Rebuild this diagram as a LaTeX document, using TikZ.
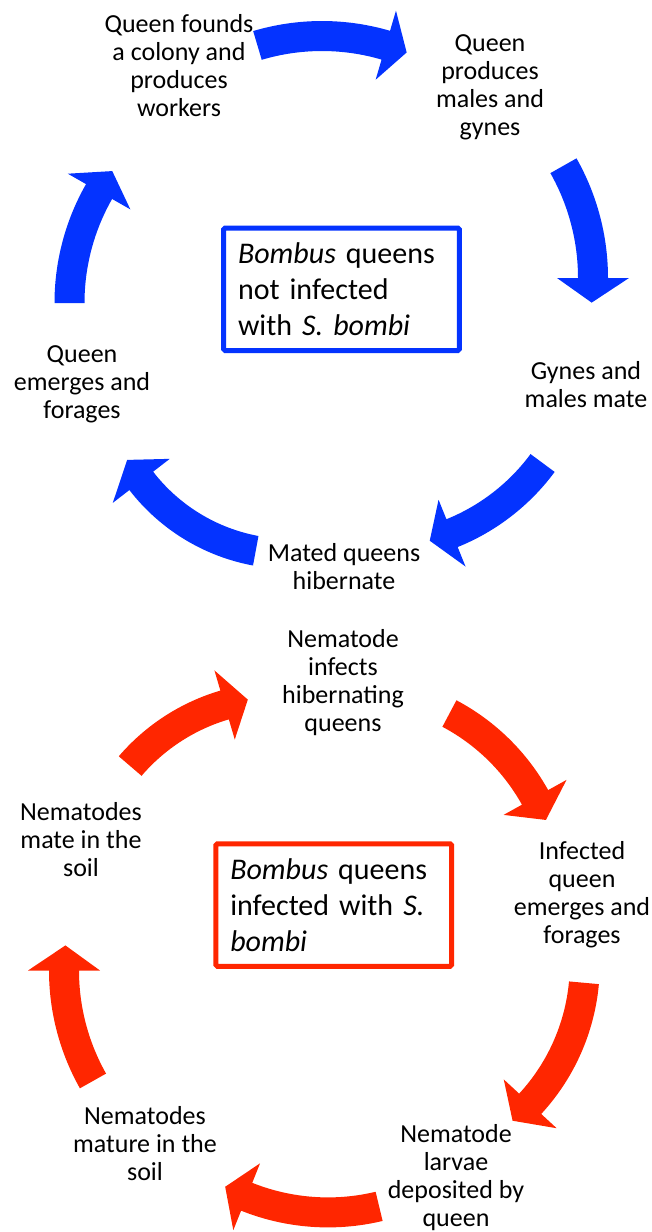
\documentclass[tikz,border=0pt]{standalone}
\usepackage{fontspec}
\setmainfont{Carlito}
\definecolor{cblue}{RGB}{4,51,255}
\definecolor{cred}{RGB}{255,38,0}
% curved block arrow: centre x, centre y, radius, tail angle, head-base angle, tip angle, colour
\newcommand{\blkarrow}[7]{%
  \fill[#7,shift={(#1,#2)}]
    (#4:{#3+15}) arc[start angle=#4, end angle=#5, radius={#3+15}]
    -- (#5:{#3+36}) -- (#6:#3) -- (#5:{#3-36}) -- (#5:{#3-15})
    arc[start angle=#5, end angle=#4, radius={#3-15}] -- cycle;}
\begin{document}
\begin{tikzpicture}[x=1pt,y=1pt,
  lbl/.style={font=\fontsize{26}{28}\selectfont, align=center, inner sep=0pt},
  infobox/.style={draw=#1, line width=5pt, rounded corners=1.5pt,
    minimum width=235.5pt, minimum height=122.5pt, text width=207pt,
    inner xsep=14.3pt, align=left, font=\fontsize{30}{36}\selectfont}]
\useasboundingbox (0,0) rectangle (651,-1232);

% ---------- top cycle (not infected) ----------
\node[lbl] (q1) at (179,-66)  {Queen founds\\a colony and\\produces\\workers};
\node[lbl] (q2) at (490,-87.5) {Queen\\produces\\males and\\gynes};
\node[lbl] (q3) at (586,-384.5) {Gynes and\\males mate};
\node[lbl] (q4) at (344,-567) {Mated queens\\hibernate};
\node[lbl] (q5) at (82,-384) {Queen\\emerges and\\forages};
\node[infobox=cblue] (box1) at (341.5,-289.25)
  {\textit{Bombus} queens\\not infected\\with \textit{S. bombi}};

\blkarrow{322}{-262}{226}{106.6}{73.6}{68}{cblue}
\blkarrow{365}{-278}{228}{29.5}{0}{-6.2}{cblue}
\blkarrow{373}{-337.5}{211}{-36.5}{-68}{-74.4}{cblue}
\blkarrow{290}{-365.9}{188}{259.5}{217.7}{210}{cblue}
\blkarrow{294.5}{-303}{225}{180}{150.3}{144.1}{cblue}

% ---------- bottom cycle (infected) ----------
\node[lbl] (r1) at (343,-683) {Nematode\\infects\\hibernating\\queens};
\node[lbl] (r2) at (582,-894.5) {Infected\\queen\\emerges and\\forages};
\node[lbl] (r3) at (456,-1178) {Nematode\\larvae\\deposited by\\queen};
\node[lbl] (r4) at (145,-1144) {Nematodes\\mature in the\\soil};
\node[lbl] (r5) at (81,-840) {Nematodes\\mate in the\\soil};
\node[infobox=cred] (box2) at (333.75,-905)
  {\textit{Bombus} queens\\infected with \textit{S.}\\\textit{bombi}};

\blkarrow{280.5}{-894.9}{198}{139.4}{106.4}{99.5}{cred}
\blkarrow{350.7}{-900}{211}{62.1}{29.1}{22.3}{cred}
\blkarrow{378.8}{-964.1}{206}{-5.2}{-42.7}{-49.5}{cred}
\blkarrow{328}{-993.4}{219}{283.5}{248.2}{242}{cred}
\blkarrow{289}{-970.5}{225}{209.4}{180}{173.6}{cred}
\end{tikzpicture}
\end{document}
